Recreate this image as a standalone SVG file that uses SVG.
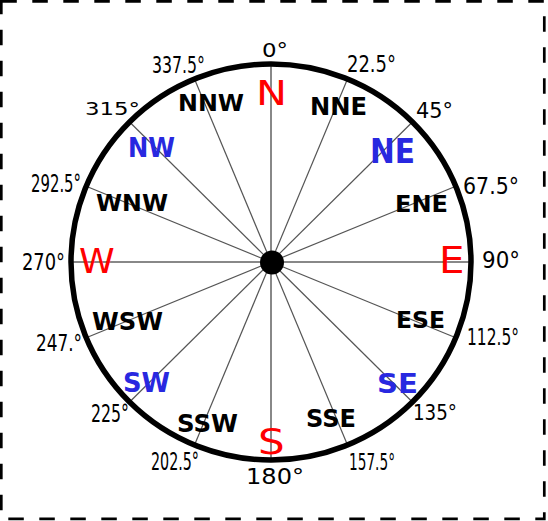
<svg xmlns="http://www.w3.org/2000/svg" width="548" height="521" viewBox="0 0 548 521">
<style>
text{font-family:"DejaVu Sans","Liberation Sans",sans-serif;}
.deg{fill:#000;}
.dir{fill:#000;font-weight:bold;}
.blue{fill:#2828e0;font-weight:bold;}
.red{fill:#ff0000;}
.spoke{stroke:#555;stroke-width:1.2;}
.axis{stroke:#888;stroke-width:2;}
</style>
<rect x="1.3" y="1.3" width="543" height="517.5" fill="#fff" stroke="#000" stroke-width="2.7" stroke-dasharray="15.5 15.5"/>
<g id="connectors">
<line class="axis" x1="271" y1="262" x2="271" y2="64"/>
<line class="axis" x1="271" y1="262" x2="471" y2="262"/>
<line class="axis" x1="271" y1="262" x2="271" y2="460"/>
<line class="axis" x1="271" y1="262" x2="71" y2="262"/>
<line class="spoke" x1="271" y1="262" x2="347.5" y2="79.1"/>
<line class="spoke" x1="271" y1="262" x2="412.4" y2="122"/>
<line class="spoke" x1="271" y1="262" x2="455.8" y2="186.2"/>
<line class="spoke" x1="271" y1="262" x2="455.8" y2="337.8"/>
<line class="spoke" x1="271" y1="262" x2="412.4" y2="402"/>
<line class="spoke" x1="271" y1="262" x2="347.5" y2="444.9"/>
<line class="spoke" x1="271" y1="262" x2="194.5" y2="444.9"/>
<line class="spoke" x1="271" y1="262" x2="129.6" y2="402"/>
<line class="spoke" x1="271" y1="262" x2="86.2" y2="337.8"/>
<line class="spoke" x1="271" y1="262" x2="86.2" y2="186.2"/>
<line class="spoke" x1="271" y1="262" x2="129.6" y2="122"/>
<line class="spoke" x1="271" y1="262" x2="194.5" y2="79.1"/>
</g>
<g id="compass-ring">
<ellipse cx="271" cy="262" rx="200" ry="198" fill="none" stroke="#000" stroke-width="5.5"/>
</g>
<g id="center">
<circle cx="272" cy="262.5" r="12" fill="#000"/>
</g>
<g id="N"><text class="red" x="256" y="105" font-size="34" textLength="31" lengthAdjust="spacingAndGlyphs">N</text></g>
<g id="E"><text class="red" x="439" y="273" font-size="38" textLength="25.5" lengthAdjust="spacingAndGlyphs">E</text></g>
<g id="S"><text class="red" x="258" y="454" font-size="36" textLength="26.7" lengthAdjust="spacingAndGlyphs">S</text></g>
<g id="W"><text class="red" x="79" y="273" font-size="34" textLength="35.7" lengthAdjust="spacingAndGlyphs">W</text></g>
<g id="NE"><text class="blue" x="370" y="163" font-size="34" textLength="45" lengthAdjust="spacingAndGlyphs">NE</text></g>
<g id="SE"><text class="blue" x="377" y="393" font-size="27" textLength="41" lengthAdjust="spacingAndGlyphs">SE</text></g>
<g id="SW"><text class="blue" x="123" y="392" font-size="27" textLength="47" lengthAdjust="spacingAndGlyphs">SW</text></g>
<g id="NW"><text class="blue" x="128" y="157" font-size="26" textLength="47" lengthAdjust="spacingAndGlyphs">NW</text></g>
<g id="NNE"><text class="dir" x="310" y="115" font-size="24" textLength="57" lengthAdjust="spacingAndGlyphs">NNE</text></g>
<g id="ENE"><text class="dir" x="395" y="212" font-size="23.5" textLength="53" lengthAdjust="spacingAndGlyphs">ENE</text></g>
<g id="ESE"><text class="dir" x="396" y="328" font-size="23.5" textLength="49" lengthAdjust="spacingAndGlyphs">ESE</text></g>
<g id="SSE"><text class="dir" x="306" y="427" font-size="25" textLength="50" lengthAdjust="spacingAndGlyphs">SSE</text></g>
<g id="SSW"><text class="dir" x="177" y="432" font-size="25" textLength="61" lengthAdjust="spacingAndGlyphs">SSW</text></g>
<g id="WSW"><text class="dir" x="92" y="330" font-size="25" textLength="71" lengthAdjust="spacingAndGlyphs">WSW</text></g>
<g id="WNW"><text class="dir" x="96" y="211" font-size="23.5" textLength="72" lengthAdjust="spacingAndGlyphs">WNW</text></g>
<g id="NNW"><text class="dir" x="178" y="111" font-size="23.5" textLength="66" lengthAdjust="spacingAndGlyphs">NNW</text></g>
<g id="deg0"><text class="deg" x="262" y="57" font-size="19" textLength="26" lengthAdjust="spacingAndGlyphs">0°</text></g>
<g id="deg22"><text class="deg" x="347" y="72" font-size="23" textLength="49" lengthAdjust="spacingAndGlyphs">22.5°</text></g>
<g id="deg45"><text class="deg" x="416" y="118" font-size="22" textLength="37" lengthAdjust="spacingAndGlyphs">45°</text></g>
<g id="deg67"><text class="deg" x="463" y="194" font-size="23" textLength="56" lengthAdjust="spacingAndGlyphs">67.5°</text></g>
<g id="deg90"><text class="deg" x="482" y="268" font-size="23" textLength="38" lengthAdjust="spacingAndGlyphs">90°</text></g>
<g id="deg112"><text class="deg" x="467" y="345" font-size="23" textLength="52" lengthAdjust="spacingAndGlyphs">112.5°</text></g>
<g id="deg135"><text class="deg" x="413" y="420" font-size="21" textLength="44" lengthAdjust="spacingAndGlyphs">135°</text></g>
<g id="deg157"><text class="deg" x="349" y="470" font-size="23" textLength="46" lengthAdjust="spacingAndGlyphs">157.5°</text></g>
<g id="deg180"><text class="deg" x="246" y="484" font-size="22" textLength="58" lengthAdjust="spacingAndGlyphs">180°</text></g>
<g id="deg202"><text class="deg" x="151" y="470" font-size="24" textLength="48" lengthAdjust="spacingAndGlyphs">202.5°</text></g>
<g id="deg225"><text class="deg" x="91" y="422" font-size="24" textLength="38" lengthAdjust="spacingAndGlyphs">225°</text></g>
<g id="deg247"><text class="deg" x="36" y="351" font-size="23" textLength="46" lengthAdjust="spacingAndGlyphs">247.°</text></g>
<g id="deg270"><text class="deg" x="22" y="270" font-size="23" textLength="43" lengthAdjust="spacingAndGlyphs">270°</text></g>
<g id="deg292"><text class="deg" x="31" y="192" font-size="25" textLength="50" lengthAdjust="spacingAndGlyphs">292.5°</text></g>
<g id="deg315"><text class="deg" x="85" y="115" font-size="18" textLength="55" lengthAdjust="spacingAndGlyphs">315°</text></g>
<g id="deg337"><text class="deg" x="152" y="73" font-size="23" textLength="53" lengthAdjust="spacingAndGlyphs">337.5°</text></g>
</svg>
